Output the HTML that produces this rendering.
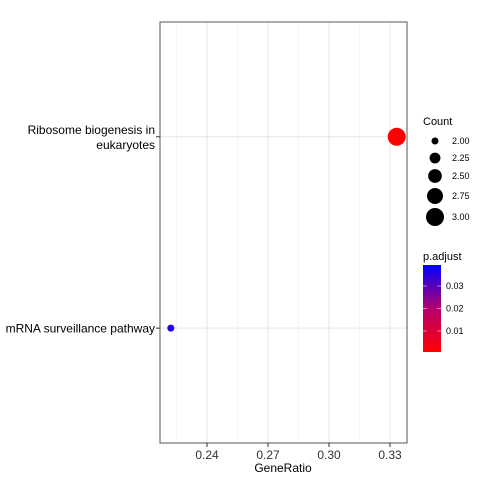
<!DOCTYPE html>
<html><head><meta charset="utf-8"><style>
body{margin:0;background:#fff;}
svg text{font-family:"Liberation Sans",Arial,sans-serif;}
</style></head><body>
<svg id="chart" width="480" height="480" xmlns="http://www.w3.org/2000/svg">
<defs><linearGradient id="grad" x1="0" y1="1" x2="0" y2="0">
<stop offset="0" stop-color="#ff0000"/><stop offset="0.5" stop-color="#b4006e"/><stop offset="1" stop-color="#0000ff"/></linearGradient></defs>
<g id="grid"></g>
<g id="marks"></g>
<rect x="160" y="22" width="247" height="421" fill="none" stroke="#555" stroke-width="1"/>
<g id="axes"></g>
<text x="283" y="472" font-size="12" text-anchor="middle" fill="#000">GeneRatio</text>
<g id="legend"></g>
</svg>
<script>
const categories = ["mRNA surveillance pathway", "Ribosome biogenesis in\neukaryotes"];
const geneRatio = [0.2222, 0.3333];
const counts = [2, 3];
const padjust = [0.037, 0.0008];
const xTicks = [0.24, 0.27, 0.30, 0.33];
const countLegend = [2.00, 2.25, 2.50, 2.75, 3.00];
const padjTicks = [0.01, 0.02, 0.03];

const NS = "http://www.w3.org/2000/svg";
function mk(tag, attrs, parent){const e=document.createElementNS(NS,tag);for(const k in attrs)e.setAttribute(k,attrs[k]);parent.appendChild(e);return e;}
const xScale = v => 207 + (v - 0.24) / 0.03 * 61;
const yScale = i => 443 - (i + 0.6) * 191.4;
const rScale = c => Math.sqrt(3.5*3.5 + (c - 2) * (81 - 12.25));
const pMin = 0.0007, pMax = 0.0393;
function pColor(p){const t=(p-pMin)/(pMax-pMin);
  const r=Math.round(255*(1-t)+0*t), b=Math.round(255*t), g=0;
  return `rgb(${Math.round(255*Math.min(1,2*(1-t)) )},${g},${Math.round(255*Math.min(1,2*t))})`;}
const grid=document.getElementById('grid'), marks=document.getElementById('marks'), axes=document.getElementById('axes'), legend=document.getElementById('legend');
// minor grid
for(let i=0;i<xTicks.length+1;i++){
  const v = xTicks[0] - 0.015 + i*0.03;
  const x = xScale(v);
  if(x>160&&x<407){const l=mk('line',{x1:x,x2:x,y1:22,y2:443,stroke:'#f2f2f2','stroke-width':0.6},grid);
  
  }
}
xTicks.forEach(v=>{
  const x=xScale(v);
  const l=mk('line',{x1:x,x2:x,y1:22,y2:443,stroke:'#e6e6e6','stroke-width':1},grid);
  
  
  const t=mk('line',{x1:x,x2:x,y1:443,y2:447,stroke:'#333'},axes);
  
  
  const tx=mk('text',{x:x,y:459,'font-size':12,'text-anchor':'middle',fill:'#333'},axes);
  tx.textContent=v.toFixed(2);
  
  
});
categories.forEach((c,i)=>{
  const y=yScale(i);
  const l=mk('line',{x1:160,x2:407,y1:y,y2:y,stroke:'#e6e6e6','stroke-width':1},grid);
  
  
  const t=mk('line',{x1:156,x2:160,y1:y,y2:y,stroke:'#333'},axes);
  
  
  const lines=c.split('\n');
  lines.forEach((ln,j)=>{
    const tx=mk('text',{x:155,y:y+4.5+(j-(lines.length-1)/2)*15,'font-size':12,'text-anchor':'end',fill:'#000'},axes);
    tx.textContent=ln;
    
    
  });
  const p=mk('circle',{cx:xScale(geneRatio[i]),cy:y,r:rScale(counts[i]),fill:pColor(padjust[i])},marks);
  
  
});
// legend
let t=mk('text',{x:423,y:125,'font-size':11,fill:'#000'},legend);t.textContent='Count';


const ly=[141,158,176,196,217];
countLegend.forEach((c,i)=>{
  const ci=mk('circle',{cx:435,cy:ly[i],r:rScale(c),fill:'#000'},legend);
  
  
  const tx=mk('text',{x:452,y:ly[i]+3,'font-size':9,fill:'#000'},legend);tx.textContent=c.toFixed(2);
  
  
});
t=mk('text',{x:423,y:260,'font-size':11,fill:'#000'},legend);t.textContent='p.adjust';


const cb=mk('rect',{x:423,y:265,width:18,height:87,fill:'url(#grad)'},legend);


padjTicks.forEach(v=>{
  const y=352-(v-pMin)/(pMax-pMin)*87;
  mk('line',{x1:423,x2:427,y1:y,y2:y,stroke:'#fff','stroke-opacity':0.5},legend);
  mk('line',{x1:437,x2:441,y1:y,y2:y,stroke:'#fff','stroke-opacity':0.5},legend);
  const tx=mk('text',{x:446,y:y+3,'font-size':9,fill:'#000'},legend);tx.textContent=v.toFixed(2);
  
  
});
</script>
</body></html>
